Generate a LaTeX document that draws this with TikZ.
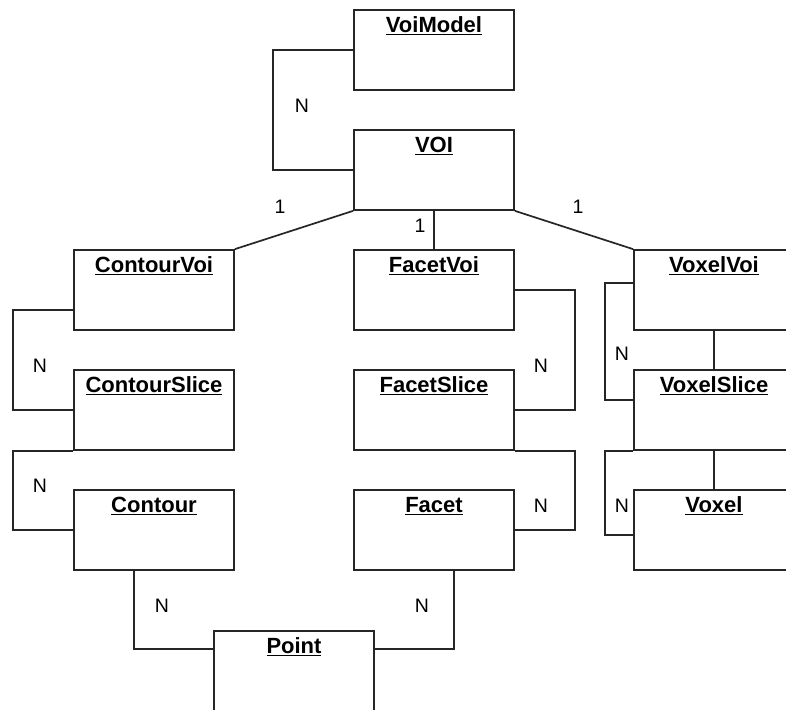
\documentclass[tikz,border=0pt]{standalone}
\usepackage{fontspec}
\setmainfont{Liberation Sans}

\begin{document}
\begin{tikzpicture}[x=1pt, y=-1pt,
  cls/.style={draw=black!85, line width=1.7pt, minimum width=160pt,
              minimum height=80pt, inner sep=0pt},
  ttl/.style={anchor=base, inner sep=0pt,
              font=\fontsize{22}{26}\selectfont\bfseries},
  mult/.style={inner sep=0pt, font=\fontsize{19.5}{23}\selectfont},
  conn/.style={draw=black!85, line width=1.7pt}]
  \useasboundingbox (0,0) rectangle (786,709);
  \clip (0,0) rectangle (786,709);
  % class boxes
  \node[cls] (voimodel) at (434,50) {};
  \node[cls] (voi) at (434,170) {};
  \node[cls] (contourvoi) at (154,290) {};
  \node[cls] (contourslice) at (154,410) {};
  \node[cls] (contour) at (154,530) {};
  \node[cls] (facetvoi) at (434,290) {};
  \node[cls] (facetslice) at (434,410) {};
  \node[cls] (facet) at (434,530) {};
  \node[cls] (voxelvoi) at (714,290) {};
  \node[cls] (voxelslice) at (714,410) {};
  \node[cls] (voxel) at (714,530) {};
  \node[cls] (point) at (294,671) {};
  % titles
  \foreach \n/\t in {voimodel/VoiModel, voi/VOI, contourvoi/ContourVoi,
      contourslice/ContourSlice, contour/Contour, facetvoi/FacetVoi,
      facetslice/FacetSlice, facet/Facet, voxelvoi/VoxelVoi,
      voxelslice/VoxelSlice, voxel/Voxel, point/Point}
    \node[ttl] (\n-t) at ([yshift=-23pt]\n.north) {\underline{\t}};
  % links
  \draw[conn] (voimodel.west) -- ++(-80,0) |- (voi.west);
  \draw[conn] (voi.south west) -- (contourvoi.north east);
  \draw[conn] (voi.south) -- (facetvoi.north);
  \draw[conn] (voi.south east) -- (voxelvoi.north west);
  \draw[conn] ([yshift=-20pt]contourvoi.west) -- ++(-60,0) |- (contourslice.west);
  \draw[conn] (contourslice.south west) -- ++(-60,0) |- (contour.west);
  \draw[conn] (facetvoi.east) -- ++(60,0) |- (facetslice.east);
  \draw[conn] (facetslice.south east) -- ++(60,0) |- (facet.east);
  \draw[conn] ([yshift=7pt]voxelvoi.west) -- ++(-28,0) |- ([yshift=10pt]voxelslice.west);
  \draw[conn] (voxelslice.south west) -- ++(-28,0) |- ([yshift=-5pt]voxel.west);
  \draw[conn] (voxelvoi.south) -- (voxelslice.north);
  \draw[conn] (voxelslice.south) -- (voxel.north);
  \draw[conn] ([xshift=-20pt]contour.south) |- ([yshift=-19pt]point.north west);
  \draw[conn] ([yshift=-19pt]point.north east) -| ([xshift=20pt]facet.south);
  % multiplicities
  \node[mult] (m-model) at (302,106) {N};
  \node[mult] (m-cvoi) at (280,207) {1};
  \node[mult] (m-fvoi) at (420,226) {1};
  \node[mult] (m-xvoi) at (578,207) {1};
  \node[mult] (m-cslice) at (40,366) {N};
  \node[mult] (m-contour) at (40,486) {N};
  \node[mult] (m-fslice) at (541,366) {N};
  \node[mult] (m-facet) at (541,506) {N};
  \node[mult] (m-xslice) at (622,354) {N};
  \node[mult] (m-voxel) at (622,506) {N};
  \node[mult] (m-cpoint) at (162,606) {N};
  \node[mult] (m-fpoint) at (422,606) {N};
\end{tikzpicture}
\end{document}
